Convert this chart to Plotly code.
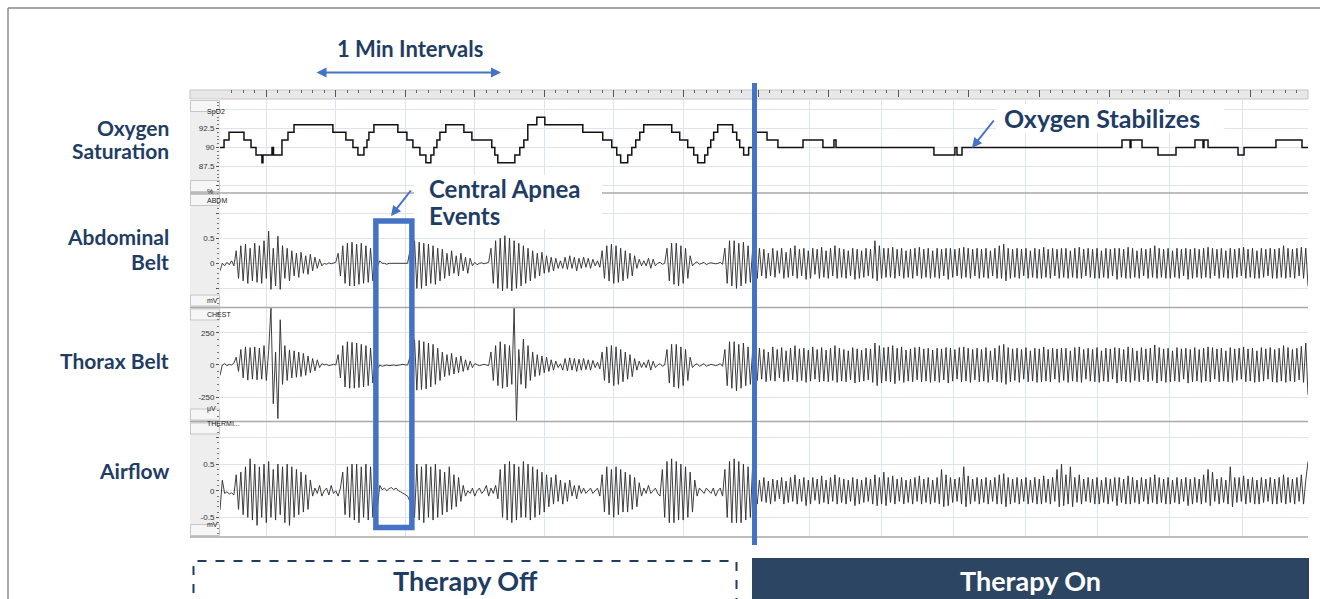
import plotly.graph_objects as go

W, H = 1320, 599
def px(x): return x / W
def py(y): return 1 - y / H

NAVY = "#1f3d64"
BLUE = "#4472C4"
GRID = "#dbe4ef"
FONT = "Lato"

# ---------------- DATA ----------------
# SpO2 (%) step changes: times (s) and levels
spo2_off_t = [20, 23.5, 27.8, 40.7, 46.8, 51.1, 56.2, 57.1, 64.9, 66.2, 73.5, 78.7, 83.9, 117.5, 128.7,
              134.8, 139.1, 144.3, 146.9, 148.6, 152.9, 173.6, 181.4, 186.6, 192.6, 197.8, 202.1, 204.7,
              207.3, 209.9, 215, 230.6, 237.5, 254.7, 257.3, 259.9, 274.6, 278.9, 282.4, 285.8, 293.6,
              300.5, 333.3, 350.5, 358.3, 362.6, 366, 372.1, 375.6, 379, 382.5, 385.9, 410.1, 417,
              423.9, 429.1, 432.5, 438.6, 441.2, 443.8, 446.3, 449.8, 462.7, 466.2, 468.8, 472.2, 476.5, 481]
spo2_off_v = [90, 91, 92, 91, 90, 89, 88, 89, 90, 89, 91, 92, 93, 92, 91,
              90, 89, 90, 91, 92, 93, 92, 91, 90, 89, 88, 89, 90,
              91, 92, 93, 92, 91, 90, 89, 88, 89, 90, 91, 93, 94,
              93, 92, 91, 90, 89, 88, 89, 90, 91, 92, 93, 92, 91,
              90, 89, 88, 89, 90, 91, 92, 93, 92, 91, 90, 89, 90, 90]
spo2_on_t = [14.2, 24.2, 33.3, 54.2, 70.8, 80, 81.7, 163.3, 180.8, 182.5, 186.7, 320, 326.7, 327.5,
             336.7, 350, 365, 380.8, 387.5, 388.3, 391.7, 416.7, 421.7, 448.3, 470, 475]
spo2_on_v = [92, 91, 90, 91, 90, 91, 90, 89, 90, 89, 90, 91, 90, 91,
             90, 89, 90, 91, 90, 91, 90, 89, 90, 91, 90, 90]

# Abdominal belt (mV), sampled every ~2 s
abdm_off = [
    -.15, .0, -.05, .02, -.03, .05, -.05,
    .25, -.3, .35, -.35, .38, -.4, .3, -.35, .4, -.38, .35, -.4, .45, -.3, .64, -.52, .3, -.45, .54, -.52, .35, -.3, .3, -.35,
    .25, -.25, .2, -.28, .22, -.2, .15, -.22, .18, -.15, .12, -.1, .08, -.05,
    .0, -.02, .01, -.01, .0, .02,
    .2, -.25, .35, -.4, .4, -.45, .42, -.45, .38, -.42, .4, -.4, .35, -.38, .3, -.35,
    .1, -.05, .05, .0, .0, -.02, .0, .0, -.01, .0, .0, -.01, .0, .0, .0, .25,
    -.45, .45, -.5, .42, -.5, .4, -.45, .38, -.4, .35, -.42, .3, -.35, .28, -.3, .2,
    -.25, .25, -.2, .15, -.25, .2, -.15, .12, -.2, .1, -.05, .02, -.03, .0,
    .01, -.01, .0, .02,
    .3, -.4, .45, -.5, .5, -.55, .55, -.5, .5, -.55, .45, -.5, .4, -.45, .35, -.4, .3, -.35,
    .25, -.3, .2, -.25, .22, -.2, .15, -.18, .12, -.15, .1, -.1, .05,
    -.1, .12, -.12, .15, -.1, .12, -.15, .1, -.1, .12, -.08, .1, -.1, .08, -.05, .05, -.08,
    .25, -.3, .35, -.35, .38, -.4, .35, -.38, .3, -.35, .25, -.3, .2, -.25, .15,
    -.1, .08, -.05, .05, -.05, .1, -.1, .08, -.05, .0, .02, -.02, .0,
    .3, -.35, .4, -.42, .4, -.45, .35, -.4, .3, -.3, .15,
    -.05, .0, .03, -.02, .0, .02, -.03, .0, .01, .0, -.01, .0, .02, -.02,
    .3, -.4, .45, -.45, .45, -.5, .4, -.45, .42, -.4, .35, -.38, .3,
]
abdm_on = [
    .25, -.3, .3, -.25, .28, -.3, .2, -.25, .3, -.28,
    .25, -.2, .3, -.3, .22, -.28, .3, -.25, .35, -.3,
    .28, -.25, .3, -.32, .25, -.3, .3, -.22, .28, -.3,
    .32, -.28, .25, -.3, .3, -.25, .35, -.3, .3, -.28,
    .28, -.3, .25, -.25, .3, -.32, .28, -.3, .25, -.28,
    .3, -.25, .28, -.3, .45, -.35, .35, -.3, .3, -.28,
    .3, -.28, .32, -.3, .28, -.25, .3, -.3, .25, -.28,
    .28, -.3, .3, -.25, .32, -.3, .28, -.28, .3, -.3,
    .25, -.28, .3, -.3, .28, -.25, .3, -.32, .3, -.28,
    .28, -.25, .3, -.3, .32, -.28, .3, -.3, .28, -.25,
    .3, -.3, .28, -.28, .3, -.3, .25, -.25, .3, -.3,
    .35, -.3, .38, -.35, .3, -.3, .28, -.28, .3, -.3,
    .28, -.25, .3, -.3, .25, -.28, .3, -.3, .28, -.3,
    .32, -.28, .28, -.3, .3, -.25, .28, -.3, .3, -.28,
    .3, -.3, .25, -.28, .3, -.3, .32, -.3, .28, -.25,
    .3, -.28, .28, -.3, .3, -.3, .25, -.28, .3, -.3,
    .28, -.25, .3, -.32, .3, -.28, .28, -.3, .32, -.3,
    .3, -.28, .25, -.3, .3, -.25, .28, -.3, .3, -.28,
    .35, -.3, .3, -.28, .28, -.3, .3, -.3, .25, -.28,
    .3, -.3, .28, -.25, .3, -.32, .28, -.3, .3, -.28,
    .28, -.3, .3, -.28, .32, -.3, .3, -.25, .28, -.3,
    .3, -.28, .25, -.3, .3, -.3, .28, -.28, .3, -.25,
    .32, -.3, .28, -.28, .3, -.3, .25, -.3, .3, -.28,
    .28, -.25, .3, -.3, .28, -.3, .3, -.28, .35, -.3,
    .3, -.28, .28, -.3, .3, -.25, .32, -.3, .3, -.45,
]

# Thorax belt (uV)
chest_off = [
    -80, 0, 10, -5, 5, 0, 15,
    60, -50, 120, -100, 140, -117, 135, -110, 140, -115, 130, -110, 150, -120, 110,
    440, -300, 100, -415, 350, -150, 150, -120,
    117, -100, 110, -95, 100, -90, 90, -80, 70, -60, 50, -45, 40, -20, 10,
    0, 5, -5, 0, 5, 0,
    80, -100, 150, -170, 180, -180, 175, -180, 170, -175, 160, -170, 150, -160, 130, -140,
    20, -30, 0, -10, -5, 0, -5, 0, 0, -5, 0, 0, 5, 0, 0, 60,
    -100, 195, -195, 190, -190, 180, -185, 170, -170, 160, -150, 130, -120, 100, -90, 80,
    -80, 90, -70, 60, -60, 70, -50, 40, -40, 30, -20, 10, 0, -5,
    0, 5, 0, -5,
    100, -120, 150, -160, 180, -180, 160, -170, 150, -150, 440, -430, 120, -150, 200, -180, 150, -120,
    100, -90, 80, -80, 70, -60, 60, -50, 40, -40, 30, -20, 10,
    -40, 50, -45, 55, -40, 50, -50, 45, -40, 50, -35, 40, -40, 35, -20, 20, -30,
    100, -120, 140, -140, 150, -160, 140, -150, 120, -130, 100, -110, 80, -90, 50,
    -40, 30, -20, 20, -20, 40, -40, 30, -20, 0, 10, -10, 0,
    120, -140, 160, -170, 160, -180, 140, -160, 120, -120, 60,
    -20, 0, 10, -10, 0, 10, -10, 0, 5, 0, -5, 0, 10, -10,
    120, -160, 180, -180, 180, -200, 160, -180, 170, -160, 140, -150, 120,
]
chest_on = [
    110, -120, 130, -110, 120, -130, 100, -120, 140, -125,
    120, -100, 135, -130, 110, -125, 130, -115, 150, -130,
    125, -120, 130, -135, 115, -125, 140, -110, 120, -130,
    135, -125, 115, -130, 130, -120, 150, -135, 130, -125,
    120, -130, 110, -115, 135, -140, 125, -130, 115, -125,
    130, -115, 125, -135, 170, -160, 150, -140, 135, -125,
    140, -130, 150, -145, 130, -120, 140, -135, 115, -125,
    125, -130, 135, -115, 140, -130, 125, -125, 130, -135,
    115, -125, 130, -135, 125, -115, 135, -140, 130, -125,
    120, -110, 135, -130, 140, -125, 130, -135, 120, -115,
    130, -130, 120, -125, 135, -135, 110, -115, 130, -130,
    150, -135, 160, -150, 135, -130, 125, -120, 130, -135,
    120, -110, 135, -130, 110, -125, 130, -135, 125, -130,
    140, -125, 120, -130, 130, -110, 125, -135, 130, -120,
    130, -135, 110, -125, 135, -130, 140, -135, 120, -110,
    130, -125, 120, -130, 135, -135, 110, -125, 130, -130,
    125, -110, 135, -140, 130, -125, 120, -130, 140, -135,
    130, -120, 110, -130, 135, -115, 125, -130, 130, -120,
    155, -140, 135, -125, 125, -135, 130, -130, 110, -125,
    135, -130, 125, -110, 130, -140, 120, -130, 135, -125,
    120, -135, 130, -125, 140, -130, 135, -110, 125, -130,
    130, -125, 110, -130, 135, -135, 125, -120, 130, -110,
    140, -130, 125, -125, 130, -135, 110, -130, 135, -125,
    125, -110, 135, -130, 120, -135, 130, -125, 150, -135,
    135, -125, 120, -130, 130, -115, 145, -135, 170, -230,
]

# Airflow thermistor (mV)
flow_off = [
    -.36, .2, -.05, -.02, -.06, -.04, -.08,
    .3, -.35, .35, -.45, .45, -.5, .6, -.55, .5, -.65, .45, -.5, .5, -.6, .55, -.5, .4, -.55, .5, -.45,
    .45, -.6, .5, -.65, .45, -.5, .4, -.45, .35, -.4, .3, -.35, .2,
    -.1, .05, -.05, .1, -.1, .0, .05, -.08, .1, -.05, .0, -.1, .05,
    .35, -.45, .45, -.5, .5, -.55, .5, -.6, .45, -.5, .5, -.55, .45, -.5, .4,
    -.3, .1, .02, .05, .0, .04, .06, .02, .05, .0, -.02, -.05, -.08, -.1, -.2,
    .45, -.5, .5, -.55, .45, -.6, .5, -.5, .45, -.55, .5, -.5, .4, -.45, .35, -.4, .45, -.35, .3, -.3, .25, -.2, .1,
    -.1, .0, -.05, .05, -.1, .0, .05, -.05, .0, .1, -.1, .05, -.05, .1, -.15,
    .4, -.5, .5, -.55, .55, -.6, .5, -.55, .45, -.5, .55, -.5, .5, -.55, .45, -.5, .4, -.45, .35, -.4, .3,
    -.3, .25, -.25, .3, -.2, .2, -.25, .15, -.2, .2, -.1, .1, -.15, .1, -.05,
    .05, -.05, .0, .05, -.05, .0, .05, -.1,
    .3, -.4, .45, -.45, .4, -.5, .45, -.45, .4, -.4, .35, -.4, .3, -.35, .25, -.3, .15,
    -.1, .05, -.05, .1, -.05, .0, .05, -.05, -.1,
    .4, -.5, .55, -.6, .6, -.6, .55, -.55, .5, -.55, .45, -.5, .35, -.4, .2,
    -.1, .05, .0, -.05, .05, .0, -.05, .05, -.1, .0, .05, -.1,
    .4, -.5, .55, -.6, .6, -.6, .55, -.6, .5, -.55, .45, -.5, .5,
]
flow_on = [
    .15, -.25, .2, -.2, .25, -.22, .18, -.25, .22, -.2,
    .2, -.15, .25, -.25, .18, -.22, .25, -.2, .3, -.25,
    .22, -.2, .25, -.28, .2, -.25, .25, -.18, .22, -.25,
    .28, -.22, .2, -.25, .25, -.2, .3, -.25, .25, -.22,
    .22, -.25, .2, -.2, .25, -.28, .22, -.25, .2, -.22,
    .25, -.2, .22, -.25, .3, -.28, .25, -.25, .35, -.28,
    .25, -.22, .28, -.25, .22, -.2, .25, -.25, .2, -.22,
    .22, -.25, .25, -.2, .28, -.25, .22, -.22, .25, -.25,
    .2, -.22, .25, -.25, .4, -.3, .3, -.28, .25, -.22,
    .22, -.2, .25, -.25, .45, -.3, .28, -.25, .22, -.2,
    .25, -.25, .22, -.22, .25, -.25, .2, -.2, .25, -.25,
    .3, -.25, .32, -.3, .25, -.25, .22, -.22, .25, -.25,
    .22, -.2, .25, -.25, .2, -.22, .25, -.25, .22, -.25,
    .28, -.22, .22, -.25, .25, -.2, .4, -.3, .5, -.28,
    .3, -.25, .45, -.3, .25, -.22, .3, -.25, .22, -.2,
    .25, -.22, .22, -.25, .25, -.25, .2, -.22, .25, -.25,
    .22, -.2, .25, -.28, .25, -.22, .22, -.25, .28, -.25,
    .25, -.22, .2, -.25, .25, -.2, .22, -.25, .25, -.22,
    .3, -.25, .25, -.22, .22, -.25, .25, -.25, .2, -.22,
    .25, -.25, .22, -.2, .25, -.28, .22, -.25, .25, -.22,
    .22, -.25, .3, -.22, .4, -.28, .35, -.2, .22, -.25,
    .25, -.22, .2, -.25, .45, -.3, .25, -.22, .25, -.2,
    .28, -.25, .22, -.22, .25, -.25, .2, -.25, .25, -.22,
    .22, -.2, .25, -.25, .22, -.25, .25, -.22, .3, -.25,
    .25, -.22, .22, -.25, .25, -.2, .3, -.25, .2, .55,
]

# time spans (s) of each recording segment
off_span = (20, 480)
on_span = (14.2, 475)

channel_names = ["SpO2", "ABDM", "CHEST", "THERMI..."]
channel_units = ["%", "mV", "\u00b5V", "mV"]
row_titles = [["Oxygen", "Saturation"], ["Abdominal", "Belt"], ["Thorax Belt"], ["Airflow"]]

# ---------------- FIGURE ----------------
fig = go.Figure()
TRACE_COLOR = "#2a2a2a"

def sampled(y, span, xa, ya, w=0.9):
    n = len(y)
    return go.Scatter(y=y, x0=span[0], dx=(span[1] - span[0]) / (n - 1), mode="lines",
                      line=dict(color=TRACE_COLOR, width=w), xaxis=xa, yaxis=ya,
                      hoverinfo="skip", showlegend=False)

fig.add_trace(go.Scatter(x=spo2_off_t, y=spo2_off_v, mode="lines", line=dict(shape="hv", color="#111", width=1.5),
                         xaxis="x", yaxis="y", hoverinfo="skip", showlegend=False))
fig.add_trace(go.Scatter(x=spo2_on_t, y=spo2_on_v, mode="lines", line=dict(shape="hv", color="#111", width=1.5),
                         xaxis="x2", yaxis="y", hoverinfo="skip", showlegend=False))
fig.add_trace(sampled(abdm_off, off_span, "x", "y2"))
fig.add_trace(sampled(abdm_on, on_span, "x2", "y2"))
fig.add_trace(sampled(chest_off, off_span, "x", "y3"))
fig.add_trace(sampled(chest_on, on_span, "x2", "y3"))
fig.add_trace(sampled(flow_off, off_span, "x", "y4"))
fig.add_trace(sampled(flow_on, on_span, "x2", "y4"))
fig.add_trace(go.Scatter(x=[None], y=[None], xaxis="x3", yaxis="y5", showlegend=False, hoverinfo="skip"))
fig.add_trace(go.Scatter(x=[None], y=[None], xaxis="x4", yaxis="y5", showlegend=False, hoverinfo="skip"))

L_DOM = [px(220), px(755)]
R_DOM = [px(755), px(1308)]
panels = [(99, 193), (193, 307.5), (307.5, 421.5), (421.5, 537)]

xcommon = dict(showgrid=True, gridcolor=GRID, gridwidth=1, tick0=0, dtick=60, showticklabels=False,
               zeroline=False, showline=False, ticks="")
ycommon = dict(showgrid=True, gridcolor=GRID, gridwidth=1, zeroline=False, showline=False, ticks="outside",
               ticklen=3, tickcolor="#555", tickfont=dict(family="Arial", size=8, color="#333"), anchor="x")

rulercommon = dict(side="top", anchor="y5", ticks="inside", ticklen=7, tickcolor="#555", tickwidth=1,
                   tick0=0, dtick=60, showticklabels=False, showgrid=False, zeroline=False, showline=False,
                   minor=dict(ticks="inside", tick0=0, dtick=10, ticklen=3, tickcolor="#666", showgrid=False))

fig.update_layout(
    width=W, height=H, margin=dict(l=0, r=0, t=0, b=0),
    paper_bgcolor="white", plot_bgcolor="rgba(0,0,0,0)", showlegend=False,
    xaxis=dict(domain=L_DOM, range=[20, 482], anchor="y4", **xcommon),
    xaxis2=dict(domain=R_DOM, range=[14.2, 475], anchor="y4", **xcommon),
    xaxis3=dict(domain=L_DOM, range=[20, 482], **rulercommon),
    xaxis4=dict(domain=R_DOM, range=[-2.56, 469.4], **rulercommon),
    yaxis=dict(domain=[py(193), py(99)], range=[84.0, 96.4], tickvals=[85, 87.5, 90, 92.5, 95],
               ticktext=["", "87.5", "90", "92.5", ""],
               minor=dict(ticks="outside", dtick=0.5, tick0=0, ticklen=2, tickcolor="#777", showgrid=False), **ycommon),
    yaxis2=dict(domain=[py(307.5), py(193)], range=[-0.88, 1.4], tickvals=[-0.5, 0, 0.5, 1.0],
                ticktext=["", "0", "0.5", ""],
                minor=dict(ticks="outside", dtick=0.1, tick0=0, ticklen=2, tickcolor="#777", showgrid=False), **ycommon),
    yaxis3=dict(domain=[py(421.5), py(307.5)], range=[-437.5, 445], tickvals=[-250, 0, 250],
                ticktext=["-250", "0", "250"],
                minor=dict(ticks="outside", dtick=50, tick0=0, ticklen=2, tickcolor="#777", showgrid=False), **ycommon),
    yaxis4=dict(domain=[py(537), py(421.5)], range=[-0.868, 1.30], tickvals=[-0.5, 0, 0.5, 1.0],
                ticktext=["-0.5", "0", "0.5", ""],
                minor=dict(ticks="outside", dtick=0.1, tick0=0, ticklen=2, tickcolor="#777", showgrid=False), **ycommon),
    yaxis5=dict(domain=[py(99), py(90)], range=[0, 1], anchor="x3", showgrid=False, zeroline=False,
                showticklabels=False, ticks="", showline=False),
)

shapes = []
# outer frame
shapes.append(dict(type="line", xref="paper", yref="paper", x0=px(8), x1=px(8), y0=py(8), y1=py(599),
                   line=dict(color="#8a8a8a", width=1.5)))
shapes.append(dict(type="line", xref="paper", yref="paper", x0=px(8), x1=px(1320), y0=py(8), y1=py(8),
                   line=dict(color="#8a8a8a", width=1.5)))
# ruler band
shapes.append(dict(type="rect", xref="paper", yref="paper", x0=px(190), x1=px(1308), y0=py(99), y1=py(90),
                   fillcolor="#e8e8e8", line=dict(color="#c4c4c4", width=1), layer="below"))
# label column + boxes
for (top, bot), nm, un in zip(panels, channel_names, channel_units):
    shapes.append(dict(type="rect", xref="paper", yref="paper", x0=px(190), x1=px(220), y0=py(bot), y1=py(top),
                       fillcolor="#eeeeee", line=dict(width=0), layer="below"))
    shapes.append(dict(type="rect", xref="paper", yref="paper", x0=px(190.5), x1=px(219.5), y0=py(top + 12.5),
                       y1=py(top + 1.5), fillcolor="#f6f6f6", line=dict(color="#c6c6c6", width=1), layer="below"))
    shapes.append(dict(type="rect", xref="paper", yref="paper", x0=px(190.5), x1=px(219.5), y0=py(bot - 1.5),
                       y1=py(bot - 12.5), fillcolor="#f6f6f6", line=dict(color="#c6c6c6", width=1), layer="below"))
# panel separators
for ysep in [193, 307.5, 421.5, 537]:
    shapes.append(dict(type="line", xref="paper", yref="paper", x0=px(190), x1=px(1308), y0=py(ysep), y1=py(ysep),
                       line=dict(color="#a9a9a9", width=1.5), layer="above"))
# white boxes behind callouts
shapes.append(dict(type="rect", xref="paper", yref="paper", x0=px(414), x1=px(602), y0=py(229), y1=py(175),
                   fillcolor="white", line=dict(width=0), layer="above"))
shapes.append(dict(type="rect", xref="paper", yref="paper", x0=px(996), x1=px(1224), y0=py(134), y1=py(104),
                   fillcolor="white", line=dict(width=0), layer="above"))
# central apnea rectangle (time based in Therapy-off recording)
shapes.append(dict(type="rect", xref="x", yref="paper", x0=154.6, x1=185.7, y0=py(527.5), y1=py(221),
                   line=dict(color=BLUE, width=5.5), fillcolor="rgba(0,0,0,0)", layer="above"))
# therapy start line
shapes.append(dict(type="line", xref="paper", yref="paper", x0=px(754.5), x1=px(754.5), y0=py(545), y1=py(83),
                   line=dict(color=BLUE, width=5), layer="above"))
# therapy boxes
shapes.append(dict(type="rect", xref="paper", yref="paper", x0=px(193.5), x1=px(736.5), y0=py(640), y1=py(561),
                   line=dict(color=NAVY, width=2, dash="dash"), fillcolor="rgba(0,0,0,0)"))
shapes.append(dict(type="rect", xref="paper", yref="paper", x0=px(752), x1=px(1309), y0=py(640), y1=py(558),
                   line=dict(width=0), fillcolor="#2b4563"))
fig.update_layout(shapes=shapes)

ann = []
def label(text, x, y, size, xanchor="right", color=NAVY):
    ann.append(dict(text=text, x=px(x), y=py(y), xref="paper", yref="paper", xanchor=xanchor, yanchor="middle",
                    showarrow=False, font=dict(family=FONT, size=size, color=color, weight="bold")))

row_y = [[127, 150], [237, 261], [360], [470]]
for lines, ys in zip(row_titles, row_y):
    for t, yy in zip(lines, ys):
        label(t, 171, yy, 21)

for (top, bot), nm, un in zip(panels, channel_names, channel_units):
    ann.append(dict(text=nm, x=px(205), y=py(top + 7), xref="paper", yref="paper", showarrow=False,
                    font=dict(family="Arial", size=7, color="#222")))
    ann.append(dict(text=un, x=px(205), y=py(bot - 7), xref="paper", yref="paper", showarrow=False,
                    font=dict(family="Arial", size=7, color="#222")))

label("1 Min Intervals", 410, 48, 22, xanchor="center")
label("Central Apnea", 427, 188, 24, xanchor="left")
label("Events", 427, 215.5, 24, xanchor="left")
label("Oxygen Stabilizes", 1002, 118, 25, xanchor="left")
label("Therapy Off", 465, 580, 27, xanchor="center")
label("Therapy On", 1030, 580, 27, xanchor="center", color="white")

# arrows
ann.append(dict(text="", x=px(501), y=py(72.5), xref="paper", yref="paper", ax=-186, ay=0, showarrow=True,
                arrowhead=2, arrowside="end+start", arrowsize=1, arrowwidth=2, arrowcolor=BLUE))
ann.append(dict(text="", x=px(391), y=py(216), xref="paper", yref="paper", ax=21, ay=-27, showarrow=True,
                arrowhead=2, arrowsize=1, arrowwidth=2, arrowcolor=BLUE))
ann.append(dict(text="", x=px(972), y=py(148), xref="paper", yref="paper", ax=23, ay=-29, showarrow=True,
                arrowhead=2, arrowsize=1, arrowwidth=2, arrowcolor=BLUE))
fig.update_layout(annotations=ann)

fig.write_html("out.html", config={"displayModeBar": False},
               post_script="document.body.style.margin='0';document.body.style.overflow='hidden';")
